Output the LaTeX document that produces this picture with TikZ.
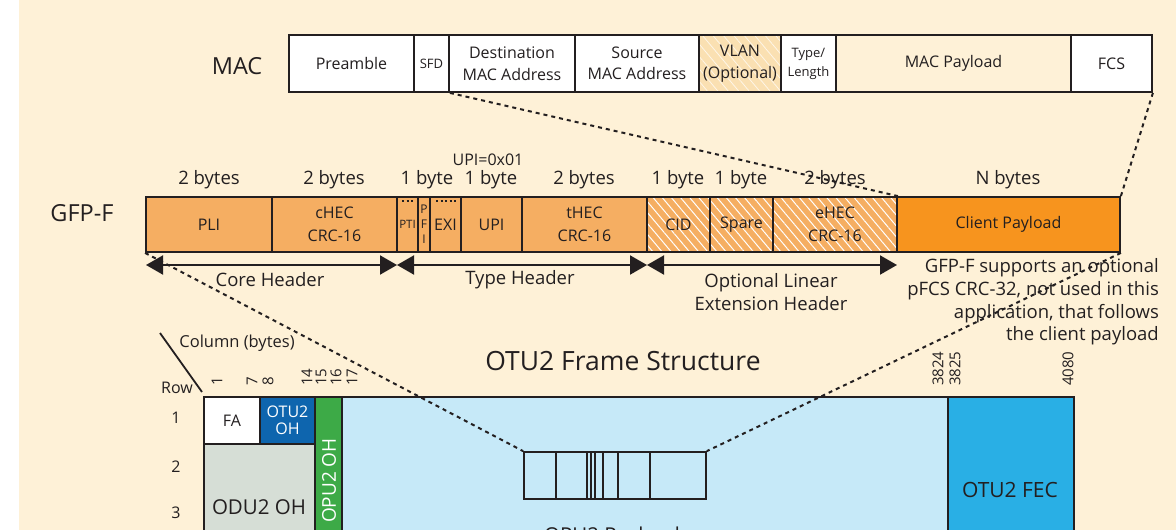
\documentclass[tikz,border=0pt]{standalone}
\usepackage{fontspec}
\setmainfont{Open Sans}
\usetikzlibrary{arrows.meta,patterns.meta}
\definecolor{bg}{HTML}{FEF1D7}
\definecolor{ink}{HTML}{231F20}
\definecolor{gfpl}{HTML}{F5AE62}
\definecolor{client}{HTML}{F7941E}
\definecolor{vlanc}{HTML}{FAE0B2}
\definecolor{ohblue}{HTML}{0E65AE}
\definecolor{odugray}{HTML}{D6DED6}
\definecolor{opugreen}{HTML}{3DAA47}
\definecolor{payblue}{HTML}{C6E9F8}
\definecolor{fecblue}{HTML}{29AFE5}
\newcommand\fsz[2]{\fontsize{#1}{#2}\selectfont}
\newcommand\rbox[7]{\node[#6,minimum width=#3-#2,minimum height=#5-#4] (#1) at ({(#2+#3)/2},{(#4+#5)/2}) {#7};}
\tikzset{
  fld/.style={draw=ink,line width=1.8pt,inner sep=0pt,align=center,text=ink,font=\fsz{16}{21.5}},
  lbl/.style={inner sep=0pt,text=ink,align=center},
  gfphatch/.style={preaction={fill=gfpl},pattern={Lines[angle=-50,distance=7pt,line width=1pt]},pattern color=white},
  vlanhatch/.style={preaction={fill=vlanc},pattern={Lines[angle=-50,distance=8pt,line width=0.8pt]},pattern color=white!70!vlanc},
  dimarrow/.style={line width=2pt,draw=ink,{Triangle[length=17pt,width=19pt]}-{Triangle[length=17pt,width=19pt]}},
  zoomline/.style={line width=2pt,draw=ink,dash pattern=on 4pt off 4pt},
  colnum/.style={lbl,rotate=90,anchor=west,font=\fsz{15}{17}},
  rownum/.style={lbl,font=\fsz{16}{18}},
}
\begin{document}
\begin{tikzpicture}[x=1pt,y=-1pt]
\useasboundingbox (0,0) rectangle (1176,530);
\clip (0,0) rectangle (1176,530);
\fill[bg] (19,0) rectangle (1176,530);

% row labels
\node[lbl,font=\fsz{23.5}{28}] (maclbl) at (237,66) {MAC};
\node[lbl,font=\fsz{23.5}{28}] (gfplbl) at (82,213) {GFP-F};

% MAC frame
\rbox{pre}{289}{414}{35}{92}{fld,fill=white}{Preamble}
\rbox{sfd}{414}{449}{35}{92}{fld,fill=white,font=\fsz{13}{15}}{SFD}
\rbox{dst}{449}{575}{35}{92}{fld,fill=white}{Destination\\MAC Address}
\rbox{src}{575}{699}{35}{92}{fld,fill=white}{Source\\MAC Address}
\rbox{vlan}{699}{781}{35}{92}{fld,vlanhatch}{VLAN\\(Optional)}
\rbox{tl}{781}{836}{35}{92}{fld,fill=white,font=\fsz{13}{19}}{Type/\\Length}
\rbox{mpl}{836}{1071}{35}{92}{fld,fill=bg}{MAC Payload}
\rbox{fcs}{1071}{1152}{35}{92}{fld,fill=white}{FCS}

% GFP-F frame
\rbox{pli}{146}{272}{197}{252}{fld,fill=gfpl}{PLI}
\rbox{chec}{272}{397}{197}{252}{fld,fill=gfpl,font=\fsz{16}{22.5}}{cHEC\\CRC-16}
\rbox{pti}{397}{418}{197}{252}{fld,fill=gfpl,font=\fsz{11.5}{14}}{PTI}
\rbox{pfi}{418}{430}{197}{252}{fld,fill=gfpl,font=\fsz{12}{15}}{P\\F\\I}
\rbox{exi}{430}{461}{197}{252}{fld,fill=gfpl}{EXI}
\rbox{upi}{461}{522}{197}{252}{fld,fill=gfpl}{UPI}
\rbox{thec}{522}{647}{197}{252}{fld,fill=gfpl,font=\fsz{16}{22.5}}{tHEC\\CRC-16}
\rbox{cid}{647}{710}{197}{252}{fld,gfphatch}{CID}
\rbox{spare}{710}{773}{197}{252}{fld,gfphatch}{Spare}
\rbox{ehec}{773}{897}{197}{252}{fld,gfphatch,font=\fsz{16}{22.5}}{eHEC\\CRC-16}
\rbox{client}{897}{1120}{197}{252}{fld,fill=client}{Client Payload}

% bit marks
\draw[ink,line width=2pt,dash pattern=on 2pt off 2.5pt] (402,200.5) -- (415,200.5);
\draw[ink,line width=2pt,dash pattern=on 2pt off 2.5pt] (436,200.5) -- (457,200.5);

% byte labels
\begin{scope}[every node/.style={lbl,font=\fsz{18.5}{22}}]
\node (b1) at (209,180) {2 bytes};
\node (b2) at (334,180) {2 bytes};
\node (b3) at (427,180) {1 byte};
\node (b4) at (491,180) {1 byte};
\node (b5) at (584,180) {2 bytes};
\node (b6) at (678,180) {1 byte};
\node (b7) at (741,180) {1 byte};
\node (b8) at (835,180) {2 bytes};
\node (b9) at (1008,180) {N bytes};
\end{scope}
\node[lbl,font=\fsz{16}{18}] (upival) at (488,160) {UPI=0x01};

% header spans
\coordinate (h0) at (146,265);
\coordinate (h1) at (397,265);
\coordinate (h2) at (647,265);
\coordinate (h3) at (897,265);
\draw[dimarrow] (h0) -- (h1);
\draw[dimarrow] (h1) -- (h2);
\draw[dimarrow] (h2) -- (h3);
\node[lbl,font=\fsz{18.5}{23}] (corel) at (270,280) {Core Header};
\node[lbl,font=\fsz{18.5}{23}] (typel) at (520,280) {Type Header};
\node[lbl,font=\fsz{18.5}{23}] (optl) at (771,292) {Optional Linear\\Extension Header};
\node[lbl,font=\fsz{18.5}{22.6},align=right,anchor=east] (note) at (1159,302)
  {GFP-F supports an optional\\pFCS CRC-32, not used in this\\application, that follows\\the client payload};

% OTU2 frame
\node[lbl,font=\fsz{26.5}{32}] (title) at (623,361) {OTU2 Frame Structure};
\node[lbl,font=\fsz{16.5}{18}] (coll) at (237,343) {Column (bytes)};
\node[lbl,font=\fsz{16}{18}] (rowl) at (177,388) {Row};
\coordinate (dg1) at (160,333);
\coordinate (dg2) at (202,392);
\draw[ink,line width=1.8pt] (dg1) -- (dg2);

\node[colnum] (c1) at (217,386) {1};
\node[colnum] (c7) at (252,386) {7};
\node[colnum] (c8) at (268,386) {8};
\node[colnum] (c14) at (307,386) {14};
\node[colnum] (c15) at (321,386) {15};
\node[colnum] (c16) at (336,386) {16};
\node[colnum] (c17) at (352,386) {17};
\node[colnum] (c3824) at (938,386) {3824};
\node[colnum] (c3825) at (955,386) {3825};
\node[colnum] (c4080) at (1068,386) {4080};

\node[rownum] (r1) at (176,418) {1};
\node[rownum] (r2) at (176,467) {2};
\node[rownum] (r3) at (176,513) {3};

\rbox{payload}{342}{948}{397}{570}{fld,fill=payblue}{}
\rbox{fec}{948}{1074}{397}{570}{fld,fill=fecblue}{}
\rbox{fa}{204}{260}{397}{444}{fld,fill=white,font=\fsz{16}{20}}{FA}
\rbox{otuoh}{260}{315}{397}{444}{fld,fill=ohblue,text=white,font=\fsz{16}{16.5}}{OTU2\\OH}
\rbox{oduoh}{204}{315}{444}{570}{fld,fill=odugray}{}
\rbox{opuoh}{315}{342}{397}{570}{fld,fill=opugreen}{}
\node[lbl,font=\fsz{20.5}{24}] (odutxt) at (259,507) {ODU2 OH};
\node[lbl,font=\fsz{19}{22},text=white,rotate=90,anchor=east] (oputxt) at (329,438) {OPU2 OH};
\node[lbl,font=\fsz{21}{24}] (fectxt) at (1010,490) {OTU2 FEC};
\node[lbl,font=\fsz{20.5}{24}] (paytxt) at (612,537) {OPU2 Payload};

% miniature GFP frame
\rbox{mini}{524}{706}{452}{499}{fld}{}
\foreach \xx in {556,587,591,595,603,618,650}
  \draw[ink,line width=1.8pt] (\xx,452) -- (\xx,499);

% zoom lines
\draw[zoomline] (sfd.south east) -- (ehec.north east);
\draw[zoomline] (fcs.south east) -- (client.north east);
\draw[zoomline] (pli.south west) -- (mini.north west);
\draw[zoomline] (client.south east) -- (mini.north east);
\end{tikzpicture}
\end{document}
